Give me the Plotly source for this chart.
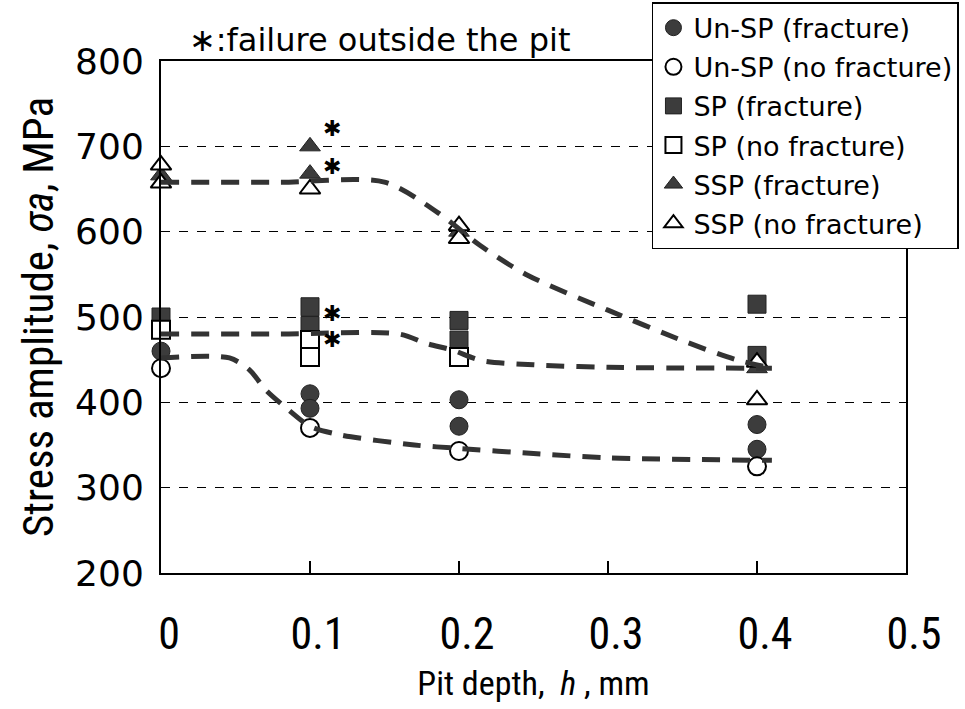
import plotly.graph_objects as go

# ---- data ----
unsp_f_x = [0, 0.1, 0.1, 0.2, 0.2, 0.4, 0.4]
unsp_f_y = [460, 410, 393, 403, 372, 374, 345]
unsp_n_x = [0, 0.1, 0.2, 0.4]
unsp_n_y = [440, 370, 343, 325]
sp_f_x = [0, 0.1, 0.1, 0.2, 0.2, 0.4, 0.4]
sp_f_y = [500, 512, 490, 496, 473, 515, 455]
sp_n_x = [0, 0.1, 0.1, 0.2]
sp_n_y = [485, 473, 453, 453]
ssp_f_x = [0, 0.1, 0.1, 0.2, 0.4]
ssp_f_y = [666, 700, 668, 600, 440]
ssp_n_x = [0, 0, 0.1, 0.2, 0.2, 0.4, 0.4]
ssp_n_y = [678, 657, 650, 607, 592, 447, 403]

# fitted trend curves
unsp_cx = [0, 0.046, 0.06, 0.07, 0.085, 0.1, 0.12, 0.17, 0.2, 0.25, 0.3, 0.41]
unsp_cy = [452, 452, 437, 415, 392, 372, 362, 350, 346, 340, 335, 332]
sp_cx = [0, 0.08, 0.16, 0.178, 0.196, 0.215, 0.25, 0.3, 0.41]
sp_cy = [480, 480, 480, 469, 461, 449, 444, 441, 440]
ssp_cx = [0, 0.08, 0.15, 0.186, 0.214, 0.246, 0.3, 0.352, 0.386, 0.41]
ssp_cy = [658, 658, 658, 622, 584, 549, 508, 471, 450, 440]

# asterisks (failure outside the pit)
ast_x = [0.1, 0.1, 0.1, 0.1]
ast_y = [721, 676, 504, 474]

x_ticks = [0, 0.1, 0.2, 0.3, 0.4, 0.5]
x_ticktext = ["0", "0.1", "0.2", "0.3", "0.4", "0.5"]
y_ticks = [200, 300, 400, 500, 600, 700, 800]

names = ["Un-SP (fracture)", "Un-SP (no fracture)", "SP (fracture)",
         "SP (no fracture)", "SSP (fracture)", "SSP (no fracture)"]

FILL = "#3c3c3c"
MAIN_FONT = "DejaVu Sans, Verdana, sans-serif"
NARROW_FONT = "Liberation Sans Narrow, Roboto Condensed, Roboto, sans-serif"

fig = go.Figure()

series = [
    (unsp_f_x, unsp_f_y, "circle", FILL),
    (unsp_n_x, unsp_n_y, "circle-open", "black"),
    (sp_f_x, sp_f_y, "square", FILL),
    (sp_n_x, sp_n_y, "square-open", "black"),
    (ssp_f_x, ssp_f_y, "triangle-up", FILL),
    (ssp_n_x, ssp_n_y, "triangle-up-open", "black"),
]

for i, (xs, ys, sym, col) in enumerate(series):
    if sym.endswith("open"):
        marker = dict(symbol=sym.replace("-open", ""), size=18, color="white",
                      line=dict(color="black", width=2))
    else:
        marker = dict(symbol=sym, size=18, color=col,
                      line=dict(color="#222222", width=1))
    fig.add_trace(go.Scatter(x=xs, y=ys, mode="markers", name=names[i],
                             marker=marker, cliponaxis=False,
                             legendgroup=str(i)))

for cx, cy in [(unsp_cx, unsp_cy), (sp_cx, sp_cy), (ssp_cx, ssp_cy)]:
    fig.add_trace(go.Scatter(x=cx, y=cy, mode="lines", showlegend=False,
                             line=dict(color="#333333", width=5,
                                       dash="18px,12px", shape="spline",
                                       smoothing=0.8),
                             cliponaxis=False, hoverinfo="skip"))

for ax, ay in zip(ast_x, ast_y):
    fig.add_annotation(x=ax, y=ay, text="✱", showarrow=False,
                       xshift=22, yshift=0,
                       font=dict(family=MAIN_FONT, size=22, color="black"))

fig.add_annotation(xref="paper", yref="paper", x=0.035, y=1.0,
                   xanchor="left", yanchor="bottom",
                   text="∗:failure outside the pit", showarrow=False,
                   font=dict(family=MAIN_FONT, size=32, color="black"))

fig.update_layout(
    width=965, height=709,
    margin=dict(l=161, r=59, t=61, b=136, autoexpand=False),
    paper_bgcolor="white", plot_bgcolor="white",
    showlegend=True,
    legend=dict(xref="container", yref="container", x=0.6756, y=0.997,
                xanchor="left", yanchor="top",
                bgcolor="white", bordercolor="black", borderwidth=1.5,
                font=dict(family=MAIN_FONT, size=27, color="black"),
                tracegroupgap=1, itemsizing="trace"),
    xaxis=dict(range=[0, 0.5], tickvals=x_ticks, ticktext=x_ticktext,
               ticks="inside", ticklen=12, tickwidth=1.5, tickcolor="black",
               showline=True, linewidth=2, linecolor="black", mirror=True,
               showgrid=False, zeroline=False, automargin=False,
               tickfont=dict(family=NARROW_FONT, size=44, color="black"),
               ticklabelstandoff=21, ticklabelshift=8,
               title=dict(text="Pit depth,  <i>h</i> , mm", standoff=12,
                          font=dict(family=NARROW_FONT, size=34, color="black"))),
    yaxis=dict(range=[200, 800], tickvals=y_ticks, ticks="",
               showline=True, linewidth=2, linecolor="black", mirror=True,
               showgrid=True, gridcolor="black", gridwidth=1, griddash="dash",
               zeroline=False, automargin=False,
               tickfont=dict(family=MAIN_FONT, size=36, color="black"),
               ticklabelstandoff=8,
               title=dict(text="Stress amplitude, <i>σa</i>, MPa", standoff=8,
                          font=dict(family=NARROW_FONT, size=43, color="black"))),
)

fig.write_html("out.html")
